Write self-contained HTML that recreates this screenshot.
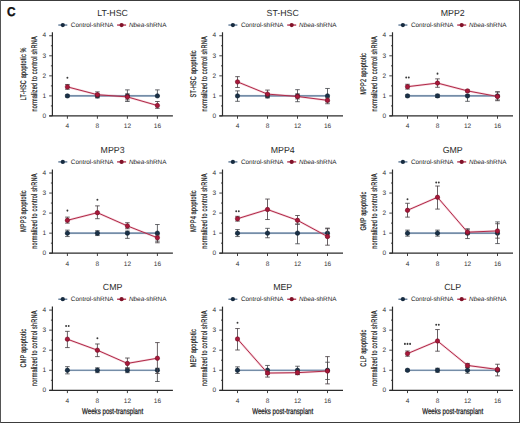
<!DOCTYPE html>
<html><head><meta charset="utf-8"><style>
html,body{margin:0;padding:0;background:#fff;}
body{width:520px;height:423px;overflow:hidden;position:relative;}
svg{position:absolute;left:0;top:0;font-family:"Liberation Sans", sans-serif;text-rendering:geometricPrecision;}
</style></head><body>
<svg width="520" height="423" viewBox="0 0 520 423">
<rect x="0" y="0" width="520" height="423" fill="#fff"/>
<line x1="0" y1="0.5" x2="520" y2="0.5" stroke="#3c3c3c" stroke-width="1"/>
<line x1="0" y1="422.5" x2="520" y2="422.5" stroke="#3c3c3c" stroke-width="1"/>
<line x1="0.5" y1="0" x2="0.5" y2="423" stroke="#555" stroke-width="1"/>
<line x1="519.5" y1="0" x2="519.5" y2="423" stroke="#444" stroke-width="1"/>
<text transform="translate(6.9,16.3) scale(0.92,1)" font-size="12.8" font-weight="bold" fill="#111" stroke="#111" stroke-width="0.35">C</text>
<text x="112.60" y="16.15" font-size="8.8" text-anchor="middle" fill="#2a2a2a">LT-HSC</text>
<line x1="58.30" y1="25.05" x2="67.30" y2="25.05" stroke="#54708f" stroke-width="1.3"/>
<circle cx="62.80" cy="25.05" r="2.1" fill="#172b40"/>
<text x="70.80" y="27.25" font-size="6.35" fill="#222">Control-shRNA</text>
<line x1="117.10" y1="25.05" x2="126.10" y2="25.05" stroke="#b02a48" stroke-width="1.3"/>
<circle cx="121.60" cy="25.05" r="2.1" fill="#801228"/>
<text x="129.00" y="27.25" font-size="6.35" fill="#222"><tspan font-style="italic">Nbea</tspan>-shRNA</text>
<text transform="translate(25.80,73.85) rotate(-90) scale(0.68,1)" font-size="8.2" letter-spacing="0.25" text-anchor="middle" fill="#1a1a1a" stroke="#1a1a1a" stroke-width="0.22">LT-HSC apoptotic %</text>
<text transform="translate(37.00,73.85) rotate(-90) scale(0.68,1)" font-size="8.2" letter-spacing="0.25" text-anchor="middle" fill="#1a1a1a" stroke="#1a1a1a" stroke-width="0.22">normalized to control shRNA</text>
<line x1="52.40" y1="32.25" x2="52.40" y2="115.95" stroke="#2b2b2b" stroke-width="1.2"/>
<line x1="49.20" y1="115.95" x2="172.90" y2="115.95" stroke="#2b2b2b" stroke-width="1.2"/>
<line x1="49.20" y1="115.95" x2="52.40" y2="115.95" stroke="#2b2b2b" stroke-width="0.9"/>
<text x="44.30" y="117.65" font-size="6.5" text-anchor="middle" fill="#333">0</text>
<line x1="50.90" y1="105.92" x2="52.40" y2="105.92" stroke="#2b2b2b" stroke-width="0.9"/>
<line x1="49.20" y1="95.90" x2="52.40" y2="95.90" stroke="#2b2b2b" stroke-width="0.9"/>
<text x="44.30" y="97.60" font-size="6.5" text-anchor="middle" fill="#333">1</text>
<line x1="50.90" y1="85.88" x2="52.40" y2="85.88" stroke="#2b2b2b" stroke-width="0.9"/>
<line x1="49.20" y1="75.85" x2="52.40" y2="75.85" stroke="#2b2b2b" stroke-width="0.9"/>
<text x="44.30" y="77.55" font-size="6.5" text-anchor="middle" fill="#333">2</text>
<line x1="50.90" y1="65.83" x2="52.40" y2="65.83" stroke="#2b2b2b" stroke-width="0.9"/>
<line x1="49.20" y1="55.80" x2="52.40" y2="55.80" stroke="#2b2b2b" stroke-width="0.9"/>
<text x="44.30" y="57.50" font-size="6.5" text-anchor="middle" fill="#333">3</text>
<line x1="50.90" y1="45.78" x2="52.40" y2="45.78" stroke="#2b2b2b" stroke-width="0.9"/>
<line x1="49.20" y1="35.75" x2="52.40" y2="35.75" stroke="#2b2b2b" stroke-width="0.9"/>
<text x="44.30" y="37.45" font-size="6.5" text-anchor="middle" fill="#333">4</text>
<line x1="67.40" y1="115.95" x2="67.40" y2="118.75" stroke="#2b2b2b" stroke-width="0.9"/>
<text x="67.40" y="128.25" font-size="6.5" text-anchor="middle" fill="#333">4</text>
<line x1="97.40" y1="115.95" x2="97.40" y2="118.75" stroke="#2b2b2b" stroke-width="0.9"/>
<text x="97.40" y="128.25" font-size="6.5" text-anchor="middle" fill="#333">8</text>
<line x1="127.40" y1="115.95" x2="127.40" y2="118.75" stroke="#2b2b2b" stroke-width="0.9"/>
<text x="127.40" y="128.25" font-size="6.5" text-anchor="middle" fill="#333">12</text>
<line x1="157.40" y1="115.95" x2="157.40" y2="118.75" stroke="#2b2b2b" stroke-width="0.9"/>
<text x="157.40" y="128.25" font-size="6.5" text-anchor="middle" fill="#333">16</text>
<line x1="67.40" y1="94.90" x2="67.40" y2="96.90" stroke="#4a4d52" stroke-width="0.85"/>
<line x1="65.10" y1="94.90" x2="69.70" y2="94.90" stroke="#4a4d52" stroke-width="0.85"/>
<line x1="65.10" y1="96.90" x2="69.70" y2="96.90" stroke="#4a4d52" stroke-width="0.85"/>
<line x1="97.40" y1="93.89" x2="97.40" y2="97.91" stroke="#4a4d52" stroke-width="0.85"/>
<line x1="95.10" y1="93.89" x2="99.70" y2="93.89" stroke="#4a4d52" stroke-width="0.85"/>
<line x1="95.10" y1="97.91" x2="99.70" y2="97.91" stroke="#4a4d52" stroke-width="0.85"/>
<line x1="127.40" y1="89.89" x2="127.40" y2="101.51" stroke="#4a4d52" stroke-width="0.85"/>
<line x1="125.10" y1="89.89" x2="129.70" y2="89.89" stroke="#4a4d52" stroke-width="0.85"/>
<line x1="125.10" y1="101.51" x2="129.70" y2="101.51" stroke="#4a4d52" stroke-width="0.85"/>
<line x1="157.40" y1="89.89" x2="157.40" y2="95.90" stroke="#4a4d52" stroke-width="0.85"/>
<line x1="155.10" y1="89.89" x2="159.70" y2="89.89" stroke="#4a4d52" stroke-width="0.85"/>
<line x1="155.10" y1="95.90" x2="159.70" y2="95.90" stroke="#4a4d52" stroke-width="0.85"/>
<polyline points="67.40,95.90 97.40,95.90 127.40,95.90 157.40,95.90" fill="none" stroke="#8fb0d2" stroke-width="2.2" stroke-opacity="0.35"/>
<polyline points="67.40,95.90 97.40,95.90 127.40,95.90 157.40,95.90" fill="none" stroke="#54708f" stroke-width="1.15"/>
<circle cx="67.40" cy="95.90" r="2.2" fill="#1a3149" stroke="#10222f" stroke-width="0.6"/>
<circle cx="97.40" cy="95.90" r="2.2" fill="#1a3149" stroke="#10222f" stroke-width="0.6"/>
<circle cx="127.40" cy="95.90" r="2.2" fill="#1a3149" stroke="#10222f" stroke-width="0.6"/>
<circle cx="157.40" cy="95.90" r="2.2" fill="#1a3149" stroke="#10222f" stroke-width="0.6"/>
<line x1="67.40" y1="84.47" x2="67.40" y2="89.28" stroke="#4d4548" stroke-width="0.85"/>
<line x1="65.10" y1="84.47" x2="69.70" y2="84.47" stroke="#4d4548" stroke-width="0.85"/>
<line x1="65.10" y1="89.28" x2="69.70" y2="89.28" stroke="#4d4548" stroke-width="0.85"/>
<line x1="97.40" y1="91.89" x2="97.40" y2="96.90" stroke="#4d4548" stroke-width="0.85"/>
<line x1="95.10" y1="91.89" x2="99.70" y2="91.89" stroke="#4d4548" stroke-width="0.85"/>
<line x1="95.10" y1="96.90" x2="99.70" y2="96.90" stroke="#4d4548" stroke-width="0.85"/>
<line x1="127.40" y1="93.89" x2="127.40" y2="99.91" stroke="#4d4548" stroke-width="0.85"/>
<line x1="125.10" y1="93.89" x2="129.70" y2="93.89" stroke="#4d4548" stroke-width="0.85"/>
<line x1="125.10" y1="99.91" x2="129.70" y2="99.91" stroke="#4d4548" stroke-width="0.85"/>
<line x1="157.40" y1="101.51" x2="157.40" y2="108.33" stroke="#4d4548" stroke-width="0.85"/>
<line x1="155.10" y1="101.51" x2="159.70" y2="101.51" stroke="#4d4548" stroke-width="0.85"/>
<line x1="155.10" y1="108.33" x2="159.70" y2="108.33" stroke="#4d4548" stroke-width="0.85"/>
<polyline points="67.40,86.88 97.40,94.70 127.40,96.90 157.40,105.52" fill="none" stroke="#e27a95" stroke-width="2.2" stroke-opacity="0.35"/>
<polyline points="67.40,86.88 97.40,94.70 127.40,96.90 157.40,105.52" fill="none" stroke="#b02a48" stroke-width="1.0"/>
<circle cx="67.40" cy="86.88" r="2.2" fill="#a8183a" stroke="#6e0c22" stroke-width="0.6"/>
<circle cx="97.40" cy="94.70" r="2.2" fill="#a8183a" stroke="#6e0c22" stroke-width="0.6"/>
<circle cx="127.40" cy="96.90" r="2.2" fill="#a8183a" stroke="#6e0c22" stroke-width="0.6"/>
<circle cx="157.40" cy="105.52" r="2.2" fill="#a8183a" stroke="#6e0c22" stroke-width="0.6"/>
<ellipse cx="67.40" cy="77.80" rx="0.95" ry="1.05" fill="#3a3a3a"/>
<text x="282.70" y="16.15" font-size="8.8" text-anchor="middle" fill="#2a2a2a">ST-HSC</text>
<line x1="228.40" y1="25.05" x2="237.40" y2="25.05" stroke="#54708f" stroke-width="1.3"/>
<circle cx="232.90" cy="25.05" r="2.1" fill="#172b40"/>
<text x="240.90" y="27.25" font-size="6.35" fill="#222">Control-shRNA</text>
<line x1="287.20" y1="25.05" x2="296.20" y2="25.05" stroke="#b02a48" stroke-width="1.3"/>
<circle cx="291.70" cy="25.05" r="2.1" fill="#801228"/>
<text x="299.10" y="27.25" font-size="6.35" fill="#222"><tspan font-style="italic">Nbea</tspan>-shRNA</text>
<text transform="translate(195.90,73.85) rotate(-90) scale(0.68,1)" font-size="8.2" letter-spacing="0.25" text-anchor="middle" fill="#1a1a1a" stroke="#1a1a1a" stroke-width="0.22">ST-HSC apoptotic</text>
<text transform="translate(207.10,73.85) rotate(-90) scale(0.68,1)" font-size="8.2" letter-spacing="0.25" text-anchor="middle" fill="#1a1a1a" stroke="#1a1a1a" stroke-width="0.22">normalized to control shRNA</text>
<line x1="222.50" y1="32.25" x2="222.50" y2="115.95" stroke="#2b2b2b" stroke-width="1.2"/>
<line x1="219.30" y1="115.95" x2="343.00" y2="115.95" stroke="#2b2b2b" stroke-width="1.2"/>
<line x1="219.30" y1="115.95" x2="222.50" y2="115.95" stroke="#2b2b2b" stroke-width="0.9"/>
<text x="214.40" y="117.65" font-size="6.5" text-anchor="middle" fill="#333">0</text>
<line x1="221.00" y1="105.92" x2="222.50" y2="105.92" stroke="#2b2b2b" stroke-width="0.9"/>
<line x1="219.30" y1="95.90" x2="222.50" y2="95.90" stroke="#2b2b2b" stroke-width="0.9"/>
<text x="214.40" y="97.60" font-size="6.5" text-anchor="middle" fill="#333">1</text>
<line x1="221.00" y1="85.88" x2="222.50" y2="85.88" stroke="#2b2b2b" stroke-width="0.9"/>
<line x1="219.30" y1="75.85" x2="222.50" y2="75.85" stroke="#2b2b2b" stroke-width="0.9"/>
<text x="214.40" y="77.55" font-size="6.5" text-anchor="middle" fill="#333">2</text>
<line x1="221.00" y1="65.83" x2="222.50" y2="65.83" stroke="#2b2b2b" stroke-width="0.9"/>
<line x1="219.30" y1="55.80" x2="222.50" y2="55.80" stroke="#2b2b2b" stroke-width="0.9"/>
<text x="214.40" y="57.50" font-size="6.5" text-anchor="middle" fill="#333">3</text>
<line x1="221.00" y1="45.78" x2="222.50" y2="45.78" stroke="#2b2b2b" stroke-width="0.9"/>
<line x1="219.30" y1="35.75" x2="222.50" y2="35.75" stroke="#2b2b2b" stroke-width="0.9"/>
<text x="214.40" y="37.45" font-size="6.5" text-anchor="middle" fill="#333">4</text>
<line x1="237.50" y1="115.95" x2="237.50" y2="118.75" stroke="#2b2b2b" stroke-width="0.9"/>
<text x="237.50" y="128.25" font-size="6.5" text-anchor="middle" fill="#333">4</text>
<line x1="267.50" y1="115.95" x2="267.50" y2="118.75" stroke="#2b2b2b" stroke-width="0.9"/>
<text x="267.50" y="128.25" font-size="6.5" text-anchor="middle" fill="#333">8</text>
<line x1="297.50" y1="115.95" x2="297.50" y2="118.75" stroke="#2b2b2b" stroke-width="0.9"/>
<text x="297.50" y="128.25" font-size="6.5" text-anchor="middle" fill="#333">12</text>
<line x1="327.50" y1="115.95" x2="327.50" y2="118.75" stroke="#2b2b2b" stroke-width="0.9"/>
<text x="327.50" y="128.25" font-size="6.5" text-anchor="middle" fill="#333">16</text>
<line x1="237.50" y1="90.89" x2="237.50" y2="101.31" stroke="#4a4d52" stroke-width="0.85"/>
<line x1="235.20" y1="90.89" x2="239.80" y2="90.89" stroke="#4a4d52" stroke-width="0.85"/>
<line x1="235.20" y1="101.31" x2="239.80" y2="101.31" stroke="#4a4d52" stroke-width="0.85"/>
<line x1="267.50" y1="93.89" x2="267.50" y2="97.91" stroke="#4a4d52" stroke-width="0.85"/>
<line x1="265.20" y1="93.89" x2="269.80" y2="93.89" stroke="#4a4d52" stroke-width="0.85"/>
<line x1="265.20" y1="97.91" x2="269.80" y2="97.91" stroke="#4a4d52" stroke-width="0.85"/>
<line x1="297.50" y1="89.68" x2="297.50" y2="101.71" stroke="#4a4d52" stroke-width="0.85"/>
<line x1="295.20" y1="89.68" x2="299.80" y2="89.68" stroke="#4a4d52" stroke-width="0.85"/>
<line x1="295.20" y1="101.71" x2="299.80" y2="101.71" stroke="#4a4d52" stroke-width="0.85"/>
<line x1="327.50" y1="88.48" x2="327.50" y2="101.92" stroke="#4a4d52" stroke-width="0.85"/>
<line x1="325.20" y1="88.48" x2="329.80" y2="88.48" stroke="#4a4d52" stroke-width="0.85"/>
<line x1="325.20" y1="101.92" x2="329.80" y2="101.92" stroke="#4a4d52" stroke-width="0.85"/>
<polyline points="237.50,95.90 267.50,95.90 297.50,95.90 327.50,95.90" fill="none" stroke="#8fb0d2" stroke-width="2.2" stroke-opacity="0.35"/>
<polyline points="237.50,95.90 267.50,95.90 297.50,95.90 327.50,95.90" fill="none" stroke="#54708f" stroke-width="1.15"/>
<circle cx="237.50" cy="95.90" r="2.2" fill="#1a3149" stroke="#10222f" stroke-width="0.6"/>
<circle cx="267.50" cy="95.90" r="2.2" fill="#1a3149" stroke="#10222f" stroke-width="0.6"/>
<circle cx="297.50" cy="95.90" r="2.2" fill="#1a3149" stroke="#10222f" stroke-width="0.6"/>
<circle cx="327.50" cy="95.90" r="2.2" fill="#1a3149" stroke="#10222f" stroke-width="0.6"/>
<line x1="237.50" y1="76.65" x2="237.50" y2="87.48" stroke="#4d4548" stroke-width="0.85"/>
<line x1="235.20" y1="76.65" x2="239.80" y2="76.65" stroke="#4d4548" stroke-width="0.85"/>
<line x1="235.20" y1="87.48" x2="239.80" y2="87.48" stroke="#4d4548" stroke-width="0.85"/>
<line x1="267.50" y1="90.09" x2="267.50" y2="96.90" stroke="#4d4548" stroke-width="0.85"/>
<line x1="265.20" y1="90.09" x2="269.80" y2="90.09" stroke="#4d4548" stroke-width="0.85"/>
<line x1="265.20" y1="96.90" x2="269.80" y2="96.90" stroke="#4d4548" stroke-width="0.85"/>
<line x1="297.50" y1="93.89" x2="297.50" y2="98.91" stroke="#4d4548" stroke-width="0.85"/>
<line x1="295.20" y1="93.89" x2="299.80" y2="93.89" stroke="#4d4548" stroke-width="0.85"/>
<line x1="295.20" y1="98.91" x2="299.80" y2="98.91" stroke="#4d4548" stroke-width="0.85"/>
<line x1="327.50" y1="97.91" x2="327.50" y2="103.72" stroke="#4d4548" stroke-width="0.85"/>
<line x1="325.20" y1="97.91" x2="329.80" y2="97.91" stroke="#4d4548" stroke-width="0.85"/>
<line x1="325.20" y1="103.72" x2="329.80" y2="103.72" stroke="#4d4548" stroke-width="0.85"/>
<polyline points="237.50,81.87 267.50,94.10 297.50,96.50 327.50,100.31" fill="none" stroke="#e27a95" stroke-width="2.2" stroke-opacity="0.35"/>
<polyline points="237.50,81.87 267.50,94.10 297.50,96.50 327.50,100.31" fill="none" stroke="#b02a48" stroke-width="1.0"/>
<circle cx="237.50" cy="81.87" r="2.2" fill="#a8183a" stroke="#6e0c22" stroke-width="0.6"/>
<circle cx="267.50" cy="94.10" r="2.2" fill="#a8183a" stroke="#6e0c22" stroke-width="0.6"/>
<circle cx="297.50" cy="96.50" r="2.2" fill="#a8183a" stroke="#6e0c22" stroke-width="0.6"/>
<circle cx="327.50" cy="100.31" r="2.2" fill="#a8183a" stroke="#6e0c22" stroke-width="0.6"/>
<text x="452.70" y="16.15" font-size="8.8" text-anchor="middle" fill="#2a2a2a">MPP2</text>
<line x1="398.40" y1="25.05" x2="407.40" y2="25.05" stroke="#54708f" stroke-width="1.3"/>
<circle cx="402.90" cy="25.05" r="2.1" fill="#172b40"/>
<text x="410.90" y="27.25" font-size="6.35" fill="#222">Control-shRNA</text>
<line x1="457.20" y1="25.05" x2="466.20" y2="25.05" stroke="#b02a48" stroke-width="1.3"/>
<circle cx="461.70" cy="25.05" r="2.1" fill="#801228"/>
<text x="469.10" y="27.25" font-size="6.35" fill="#222"><tspan font-style="italic">Nbea</tspan>-shRNA</text>
<text transform="translate(365.90,73.85) rotate(-90) scale(0.68,1)" font-size="8.2" letter-spacing="0.25" text-anchor="middle" fill="#1a1a1a" stroke="#1a1a1a" stroke-width="0.22">MPP2 apoptotic</text>
<text transform="translate(377.10,73.85) rotate(-90) scale(0.68,1)" font-size="8.2" letter-spacing="0.25" text-anchor="middle" fill="#1a1a1a" stroke="#1a1a1a" stroke-width="0.22">normalized to control shRNA</text>
<line x1="392.50" y1="32.25" x2="392.50" y2="115.95" stroke="#2b2b2b" stroke-width="1.2"/>
<line x1="389.30" y1="115.95" x2="513.00" y2="115.95" stroke="#2b2b2b" stroke-width="1.2"/>
<line x1="389.30" y1="115.95" x2="392.50" y2="115.95" stroke="#2b2b2b" stroke-width="0.9"/>
<text x="384.40" y="117.65" font-size="6.5" text-anchor="middle" fill="#333">0</text>
<line x1="391.00" y1="105.92" x2="392.50" y2="105.92" stroke="#2b2b2b" stroke-width="0.9"/>
<line x1="389.30" y1="95.90" x2="392.50" y2="95.90" stroke="#2b2b2b" stroke-width="0.9"/>
<text x="384.40" y="97.60" font-size="6.5" text-anchor="middle" fill="#333">1</text>
<line x1="391.00" y1="85.88" x2="392.50" y2="85.88" stroke="#2b2b2b" stroke-width="0.9"/>
<line x1="389.30" y1="75.85" x2="392.50" y2="75.85" stroke="#2b2b2b" stroke-width="0.9"/>
<text x="384.40" y="77.55" font-size="6.5" text-anchor="middle" fill="#333">2</text>
<line x1="391.00" y1="65.83" x2="392.50" y2="65.83" stroke="#2b2b2b" stroke-width="0.9"/>
<line x1="389.30" y1="55.80" x2="392.50" y2="55.80" stroke="#2b2b2b" stroke-width="0.9"/>
<text x="384.40" y="57.50" font-size="6.5" text-anchor="middle" fill="#333">3</text>
<line x1="391.00" y1="45.78" x2="392.50" y2="45.78" stroke="#2b2b2b" stroke-width="0.9"/>
<line x1="389.30" y1="35.75" x2="392.50" y2="35.75" stroke="#2b2b2b" stroke-width="0.9"/>
<text x="384.40" y="37.45" font-size="6.5" text-anchor="middle" fill="#333">4</text>
<line x1="407.50" y1="115.95" x2="407.50" y2="118.75" stroke="#2b2b2b" stroke-width="0.9"/>
<text x="407.50" y="128.25" font-size="6.5" text-anchor="middle" fill="#333">4</text>
<line x1="437.50" y1="115.95" x2="437.50" y2="118.75" stroke="#2b2b2b" stroke-width="0.9"/>
<text x="437.50" y="128.25" font-size="6.5" text-anchor="middle" fill="#333">8</text>
<line x1="467.50" y1="115.95" x2="467.50" y2="118.75" stroke="#2b2b2b" stroke-width="0.9"/>
<text x="467.50" y="128.25" font-size="6.5" text-anchor="middle" fill="#333">12</text>
<line x1="497.50" y1="115.95" x2="497.50" y2="118.75" stroke="#2b2b2b" stroke-width="0.9"/>
<text x="497.50" y="128.25" font-size="6.5" text-anchor="middle" fill="#333">16</text>
<line x1="407.50" y1="94.90" x2="407.50" y2="96.90" stroke="#4a4d52" stroke-width="0.85"/>
<line x1="405.20" y1="94.90" x2="409.80" y2="94.90" stroke="#4a4d52" stroke-width="0.85"/>
<line x1="405.20" y1="96.90" x2="409.80" y2="96.90" stroke="#4a4d52" stroke-width="0.85"/>
<line x1="437.50" y1="94.30" x2="437.50" y2="97.50" stroke="#4a4d52" stroke-width="0.85"/>
<line x1="435.20" y1="94.30" x2="439.80" y2="94.30" stroke="#4a4d52" stroke-width="0.85"/>
<line x1="435.20" y1="97.50" x2="439.80" y2="97.50" stroke="#4a4d52" stroke-width="0.85"/>
<line x1="467.50" y1="94.90" x2="467.50" y2="101.31" stroke="#4a4d52" stroke-width="0.85"/>
<line x1="465.20" y1="94.90" x2="469.80" y2="94.90" stroke="#4a4d52" stroke-width="0.85"/>
<line x1="465.20" y1="101.31" x2="469.80" y2="101.31" stroke="#4a4d52" stroke-width="0.85"/>
<line x1="497.50" y1="91.89" x2="497.50" y2="99.91" stroke="#4a4d52" stroke-width="0.85"/>
<line x1="495.20" y1="91.89" x2="499.80" y2="91.89" stroke="#4a4d52" stroke-width="0.85"/>
<line x1="495.20" y1="99.91" x2="499.80" y2="99.91" stroke="#4a4d52" stroke-width="0.85"/>
<polyline points="407.50,95.90 437.50,95.90 467.50,95.90 497.50,95.90" fill="none" stroke="#8fb0d2" stroke-width="2.2" stroke-opacity="0.35"/>
<polyline points="407.50,95.90 437.50,95.90 467.50,95.90 497.50,95.90" fill="none" stroke="#54708f" stroke-width="1.15"/>
<circle cx="407.50" cy="95.90" r="2.2" fill="#1a3149" stroke="#10222f" stroke-width="0.6"/>
<circle cx="437.50" cy="95.90" r="2.2" fill="#1a3149" stroke="#10222f" stroke-width="0.6"/>
<circle cx="467.50" cy="95.90" r="2.2" fill="#1a3149" stroke="#10222f" stroke-width="0.6"/>
<circle cx="497.50" cy="95.90" r="2.2" fill="#1a3149" stroke="#10222f" stroke-width="0.6"/>
<line x1="407.50" y1="84.27" x2="407.50" y2="89.08" stroke="#4d4548" stroke-width="0.85"/>
<line x1="405.20" y1="84.27" x2="409.80" y2="84.27" stroke="#4d4548" stroke-width="0.85"/>
<line x1="405.20" y1="89.08" x2="409.80" y2="89.08" stroke="#4d4548" stroke-width="0.85"/>
<line x1="437.50" y1="78.86" x2="437.50" y2="87.28" stroke="#4d4548" stroke-width="0.85"/>
<line x1="435.20" y1="78.86" x2="439.80" y2="78.86" stroke="#4d4548" stroke-width="0.85"/>
<line x1="435.20" y1="87.28" x2="439.80" y2="87.28" stroke="#4d4548" stroke-width="0.85"/>
<line x1="467.50" y1="89.89" x2="467.50" y2="91.89" stroke="#4d4548" stroke-width="0.85"/>
<line x1="465.20" y1="89.89" x2="469.80" y2="89.89" stroke="#4d4548" stroke-width="0.85"/>
<line x1="465.20" y1="91.89" x2="469.80" y2="91.89" stroke="#4d4548" stroke-width="0.85"/>
<line x1="497.50" y1="91.89" x2="497.50" y2="100.71" stroke="#4d4548" stroke-width="0.85"/>
<line x1="495.20" y1="91.89" x2="499.80" y2="91.89" stroke="#4d4548" stroke-width="0.85"/>
<line x1="495.20" y1="100.71" x2="499.80" y2="100.71" stroke="#4d4548" stroke-width="0.85"/>
<polyline points="407.50,86.68 437.50,83.07 467.50,90.89 497.50,96.50" fill="none" stroke="#e27a95" stroke-width="2.2" stroke-opacity="0.35"/>
<polyline points="407.50,86.68 437.50,83.07 467.50,90.89 497.50,96.50" fill="none" stroke="#b02a48" stroke-width="1.0"/>
<circle cx="407.50" cy="86.68" r="2.2" fill="#a8183a" stroke="#6e0c22" stroke-width="0.6"/>
<circle cx="437.50" cy="83.07" r="2.2" fill="#a8183a" stroke="#6e0c22" stroke-width="0.6"/>
<circle cx="467.50" cy="90.89" r="2.2" fill="#a8183a" stroke="#6e0c22" stroke-width="0.6"/>
<circle cx="497.50" cy="96.50" r="2.2" fill="#a8183a" stroke="#6e0c22" stroke-width="0.6"/>
<ellipse cx="406.20" cy="77.50" rx="0.95" ry="1.05" fill="#3a3a3a"/>
<ellipse cx="408.80" cy="77.50" rx="0.95" ry="1.05" fill="#3a3a3a"/>
<ellipse cx="437.50" cy="73.65" rx="0.95" ry="1.05" fill="#3a3a3a"/>
<text x="112.60" y="152.90" font-size="8.8" text-anchor="middle" fill="#2a2a2a">MPP3</text>
<line x1="58.30" y1="161.90" x2="67.30" y2="161.90" stroke="#54708f" stroke-width="1.3"/>
<circle cx="62.80" cy="161.90" r="2.1" fill="#172b40"/>
<text x="70.80" y="164.10" font-size="6.35" fill="#222">Control-shRNA</text>
<line x1="117.10" y1="161.90" x2="126.10" y2="161.90" stroke="#b02a48" stroke-width="1.3"/>
<circle cx="121.60" cy="161.90" r="2.1" fill="#801228"/>
<text x="129.00" y="164.10" font-size="6.35" fill="#222"><tspan font-style="italic">Nbea</tspan>-shRNA</text>
<text transform="translate(25.80,211.10) rotate(-90) scale(0.68,1)" font-size="8.2" letter-spacing="0.25" text-anchor="middle" fill="#1a1a1a" stroke="#1a1a1a" stroke-width="0.22">MPP3 apoptotic</text>
<text transform="translate(37.00,211.10) rotate(-90) scale(0.68,1)" font-size="8.2" letter-spacing="0.25" text-anchor="middle" fill="#1a1a1a" stroke="#1a1a1a" stroke-width="0.22">normalized to control shRNA</text>
<line x1="52.40" y1="169.50" x2="52.40" y2="253.20" stroke="#2b2b2b" stroke-width="1.2"/>
<line x1="49.20" y1="253.20" x2="172.90" y2="253.20" stroke="#2b2b2b" stroke-width="1.2"/>
<line x1="49.20" y1="253.20" x2="52.40" y2="253.20" stroke="#2b2b2b" stroke-width="0.9"/>
<text x="44.30" y="254.90" font-size="6.5" text-anchor="middle" fill="#333">0</text>
<line x1="50.90" y1="243.17" x2="52.40" y2="243.17" stroke="#2b2b2b" stroke-width="0.9"/>
<line x1="49.20" y1="233.15" x2="52.40" y2="233.15" stroke="#2b2b2b" stroke-width="0.9"/>
<text x="44.30" y="234.85" font-size="6.5" text-anchor="middle" fill="#333">1</text>
<line x1="50.90" y1="223.12" x2="52.40" y2="223.12" stroke="#2b2b2b" stroke-width="0.9"/>
<line x1="49.20" y1="213.10" x2="52.40" y2="213.10" stroke="#2b2b2b" stroke-width="0.9"/>
<text x="44.30" y="214.80" font-size="6.5" text-anchor="middle" fill="#333">2</text>
<line x1="50.90" y1="203.07" x2="52.40" y2="203.07" stroke="#2b2b2b" stroke-width="0.9"/>
<line x1="49.20" y1="193.05" x2="52.40" y2="193.05" stroke="#2b2b2b" stroke-width="0.9"/>
<text x="44.30" y="194.75" font-size="6.5" text-anchor="middle" fill="#333">3</text>
<line x1="50.90" y1="183.02" x2="52.40" y2="183.02" stroke="#2b2b2b" stroke-width="0.9"/>
<line x1="49.20" y1="173.00" x2="52.40" y2="173.00" stroke="#2b2b2b" stroke-width="0.9"/>
<text x="44.30" y="174.70" font-size="6.5" text-anchor="middle" fill="#333">4</text>
<line x1="67.40" y1="253.20" x2="67.40" y2="256.00" stroke="#2b2b2b" stroke-width="0.9"/>
<text x="67.40" y="265.50" font-size="6.5" text-anchor="middle" fill="#333">4</text>
<line x1="97.40" y1="253.20" x2="97.40" y2="256.00" stroke="#2b2b2b" stroke-width="0.9"/>
<text x="97.40" y="265.50" font-size="6.5" text-anchor="middle" fill="#333">8</text>
<line x1="127.40" y1="253.20" x2="127.40" y2="256.00" stroke="#2b2b2b" stroke-width="0.9"/>
<text x="127.40" y="265.50" font-size="6.5" text-anchor="middle" fill="#333">12</text>
<line x1="157.40" y1="253.20" x2="157.40" y2="256.00" stroke="#2b2b2b" stroke-width="0.9"/>
<text x="157.40" y="265.50" font-size="6.5" text-anchor="middle" fill="#333">16</text>
<line x1="67.40" y1="230.14" x2="67.40" y2="236.56" stroke="#4a4d52" stroke-width="0.85"/>
<line x1="65.10" y1="230.14" x2="69.70" y2="230.14" stroke="#4a4d52" stroke-width="0.85"/>
<line x1="65.10" y1="236.56" x2="69.70" y2="236.56" stroke="#4a4d52" stroke-width="0.85"/>
<line x1="97.40" y1="230.74" x2="97.40" y2="235.56" stroke="#4a4d52" stroke-width="0.85"/>
<line x1="95.10" y1="230.74" x2="99.70" y2="230.74" stroke="#4a4d52" stroke-width="0.85"/>
<line x1="95.10" y1="235.56" x2="99.70" y2="235.56" stroke="#4a4d52" stroke-width="0.85"/>
<line x1="127.40" y1="231.14" x2="127.40" y2="238.36" stroke="#4a4d52" stroke-width="0.85"/>
<line x1="125.10" y1="231.14" x2="129.70" y2="231.14" stroke="#4a4d52" stroke-width="0.85"/>
<line x1="125.10" y1="238.36" x2="129.70" y2="238.36" stroke="#4a4d52" stroke-width="0.85"/>
<line x1="157.40" y1="224.53" x2="157.40" y2="241.17" stroke="#4a4d52" stroke-width="0.85"/>
<line x1="155.10" y1="224.53" x2="159.70" y2="224.53" stroke="#4a4d52" stroke-width="0.85"/>
<line x1="155.10" y1="241.17" x2="159.70" y2="241.17" stroke="#4a4d52" stroke-width="0.85"/>
<polyline points="67.40,233.15 97.40,233.15 127.40,233.15 157.40,233.15" fill="none" stroke="#8fb0d2" stroke-width="2.2" stroke-opacity="0.35"/>
<polyline points="67.40,233.15 97.40,233.15 127.40,233.15 157.40,233.15" fill="none" stroke="#54708f" stroke-width="1.15"/>
<circle cx="67.40" cy="233.15" r="2.2" fill="#1a3149" stroke="#10222f" stroke-width="0.6"/>
<circle cx="97.40" cy="233.15" r="2.2" fill="#1a3149" stroke="#10222f" stroke-width="0.6"/>
<circle cx="127.40" cy="233.15" r="2.2" fill="#1a3149" stroke="#10222f" stroke-width="0.6"/>
<circle cx="157.40" cy="233.15" r="2.2" fill="#1a3149" stroke="#10222f" stroke-width="0.6"/>
<line x1="67.40" y1="217.11" x2="67.40" y2="223.12" stroke="#4d4548" stroke-width="0.85"/>
<line x1="65.10" y1="217.11" x2="69.70" y2="217.11" stroke="#4d4548" stroke-width="0.85"/>
<line x1="65.10" y1="223.12" x2="69.70" y2="223.12" stroke="#4d4548" stroke-width="0.85"/>
<line x1="97.40" y1="205.88" x2="97.40" y2="218.71" stroke="#4d4548" stroke-width="0.85"/>
<line x1="95.10" y1="205.88" x2="99.70" y2="205.88" stroke="#4d4548" stroke-width="0.85"/>
<line x1="95.10" y1="218.71" x2="99.70" y2="218.71" stroke="#4d4548" stroke-width="0.85"/>
<line x1="127.40" y1="222.72" x2="127.40" y2="228.74" stroke="#4d4548" stroke-width="0.85"/>
<line x1="125.10" y1="222.72" x2="129.70" y2="222.72" stroke="#4d4548" stroke-width="0.85"/>
<line x1="125.10" y1="228.74" x2="129.70" y2="228.74" stroke="#4d4548" stroke-width="0.85"/>
<line x1="157.40" y1="235.15" x2="157.40" y2="242.77" stroke="#4d4548" stroke-width="0.85"/>
<line x1="155.10" y1="235.15" x2="159.70" y2="235.15" stroke="#4d4548" stroke-width="0.85"/>
<line x1="155.10" y1="242.77" x2="159.70" y2="242.77" stroke="#4d4548" stroke-width="0.85"/>
<polyline points="67.40,220.32 97.40,212.70 127.40,225.93 157.40,237.76" fill="none" stroke="#e27a95" stroke-width="2.2" stroke-opacity="0.35"/>
<polyline points="67.40,220.32 97.40,212.70 127.40,225.93 157.40,237.76" fill="none" stroke="#b02a48" stroke-width="1.0"/>
<circle cx="67.40" cy="220.32" r="2.2" fill="#a8183a" stroke="#6e0c22" stroke-width="0.6"/>
<circle cx="97.40" cy="212.70" r="2.2" fill="#a8183a" stroke="#6e0c22" stroke-width="0.6"/>
<circle cx="127.40" cy="225.93" r="2.2" fill="#a8183a" stroke="#6e0c22" stroke-width="0.6"/>
<circle cx="157.40" cy="237.76" r="2.2" fill="#a8183a" stroke="#6e0c22" stroke-width="0.6"/>
<ellipse cx="67.40" cy="210.60" rx="0.95" ry="1.05" fill="#3a3a3a"/>
<ellipse cx="97.40" cy="199.80" rx="0.95" ry="1.05" fill="#3a3a3a"/>
<text x="282.70" y="152.90" font-size="8.8" text-anchor="middle" fill="#2a2a2a">MPP4</text>
<line x1="228.40" y1="161.90" x2="237.40" y2="161.90" stroke="#54708f" stroke-width="1.3"/>
<circle cx="232.90" cy="161.90" r="2.1" fill="#172b40"/>
<text x="240.90" y="164.10" font-size="6.35" fill="#222">Control-shRNA</text>
<line x1="287.20" y1="161.90" x2="296.20" y2="161.90" stroke="#b02a48" stroke-width="1.3"/>
<circle cx="291.70" cy="161.90" r="2.1" fill="#801228"/>
<text x="299.10" y="164.10" font-size="6.35" fill="#222"><tspan font-style="italic">Nbea</tspan>-shRNA</text>
<text transform="translate(195.90,211.10) rotate(-90) scale(0.68,1)" font-size="8.2" letter-spacing="0.25" text-anchor="middle" fill="#1a1a1a" stroke="#1a1a1a" stroke-width="0.22">MPP4 apoptotic</text>
<text transform="translate(207.10,211.10) rotate(-90) scale(0.68,1)" font-size="8.2" letter-spacing="0.25" text-anchor="middle" fill="#1a1a1a" stroke="#1a1a1a" stroke-width="0.22">normalized to control shRNA</text>
<line x1="222.50" y1="169.50" x2="222.50" y2="253.20" stroke="#2b2b2b" stroke-width="1.2"/>
<line x1="219.30" y1="253.20" x2="343.00" y2="253.20" stroke="#2b2b2b" stroke-width="1.2"/>
<line x1="219.30" y1="253.20" x2="222.50" y2="253.20" stroke="#2b2b2b" stroke-width="0.9"/>
<text x="214.40" y="254.90" font-size="6.5" text-anchor="middle" fill="#333">0</text>
<line x1="221.00" y1="243.17" x2="222.50" y2="243.17" stroke="#2b2b2b" stroke-width="0.9"/>
<line x1="219.30" y1="233.15" x2="222.50" y2="233.15" stroke="#2b2b2b" stroke-width="0.9"/>
<text x="214.40" y="234.85" font-size="6.5" text-anchor="middle" fill="#333">1</text>
<line x1="221.00" y1="223.12" x2="222.50" y2="223.12" stroke="#2b2b2b" stroke-width="0.9"/>
<line x1="219.30" y1="213.10" x2="222.50" y2="213.10" stroke="#2b2b2b" stroke-width="0.9"/>
<text x="214.40" y="214.80" font-size="6.5" text-anchor="middle" fill="#333">2</text>
<line x1="221.00" y1="203.07" x2="222.50" y2="203.07" stroke="#2b2b2b" stroke-width="0.9"/>
<line x1="219.30" y1="193.05" x2="222.50" y2="193.05" stroke="#2b2b2b" stroke-width="0.9"/>
<text x="214.40" y="194.75" font-size="6.5" text-anchor="middle" fill="#333">3</text>
<line x1="221.00" y1="183.02" x2="222.50" y2="183.02" stroke="#2b2b2b" stroke-width="0.9"/>
<line x1="219.30" y1="173.00" x2="222.50" y2="173.00" stroke="#2b2b2b" stroke-width="0.9"/>
<text x="214.40" y="174.70" font-size="6.5" text-anchor="middle" fill="#333">4</text>
<line x1="237.50" y1="253.20" x2="237.50" y2="256.00" stroke="#2b2b2b" stroke-width="0.9"/>
<text x="237.50" y="265.50" font-size="6.5" text-anchor="middle" fill="#333">4</text>
<line x1="267.50" y1="253.20" x2="267.50" y2="256.00" stroke="#2b2b2b" stroke-width="0.9"/>
<text x="267.50" y="265.50" font-size="6.5" text-anchor="middle" fill="#333">8</text>
<line x1="297.50" y1="253.20" x2="297.50" y2="256.00" stroke="#2b2b2b" stroke-width="0.9"/>
<text x="297.50" y="265.50" font-size="6.5" text-anchor="middle" fill="#333">12</text>
<line x1="327.50" y1="253.20" x2="327.50" y2="256.00" stroke="#2b2b2b" stroke-width="0.9"/>
<text x="327.50" y="265.50" font-size="6.5" text-anchor="middle" fill="#333">16</text>
<line x1="237.50" y1="229.54" x2="237.50" y2="236.56" stroke="#4a4d52" stroke-width="0.85"/>
<line x1="235.20" y1="229.54" x2="239.80" y2="229.54" stroke="#4a4d52" stroke-width="0.85"/>
<line x1="235.20" y1="236.56" x2="239.80" y2="236.56" stroke="#4a4d52" stroke-width="0.85"/>
<line x1="267.50" y1="228.34" x2="267.50" y2="237.76" stroke="#4a4d52" stroke-width="0.85"/>
<line x1="265.20" y1="228.34" x2="269.80" y2="228.34" stroke="#4a4d52" stroke-width="0.85"/>
<line x1="265.20" y1="237.76" x2="269.80" y2="237.76" stroke="#4a4d52" stroke-width="0.85"/>
<line x1="297.50" y1="224.13" x2="297.50" y2="243.78" stroke="#4a4d52" stroke-width="0.85"/>
<line x1="295.20" y1="224.13" x2="299.80" y2="224.13" stroke="#4a4d52" stroke-width="0.85"/>
<line x1="295.20" y1="243.78" x2="299.80" y2="243.78" stroke="#4a4d52" stroke-width="0.85"/>
<line x1="327.50" y1="228.74" x2="327.50" y2="237.16" stroke="#4a4d52" stroke-width="0.85"/>
<line x1="325.20" y1="228.74" x2="329.80" y2="228.74" stroke="#4a4d52" stroke-width="0.85"/>
<line x1="325.20" y1="237.16" x2="329.80" y2="237.16" stroke="#4a4d52" stroke-width="0.85"/>
<polyline points="237.50,233.15 267.50,233.15 297.50,233.15 327.50,233.15" fill="none" stroke="#8fb0d2" stroke-width="2.2" stroke-opacity="0.35"/>
<polyline points="237.50,233.15 267.50,233.15 297.50,233.15 327.50,233.15" fill="none" stroke="#54708f" stroke-width="1.15"/>
<circle cx="237.50" cy="233.15" r="2.2" fill="#1a3149" stroke="#10222f" stroke-width="0.6"/>
<circle cx="267.50" cy="233.15" r="2.2" fill="#1a3149" stroke="#10222f" stroke-width="0.6"/>
<circle cx="297.50" cy="233.15" r="2.2" fill="#1a3149" stroke="#10222f" stroke-width="0.6"/>
<circle cx="327.50" cy="233.15" r="2.2" fill="#1a3149" stroke="#10222f" stroke-width="0.6"/>
<line x1="237.50" y1="216.31" x2="237.50" y2="221.12" stroke="#4d4548" stroke-width="0.85"/>
<line x1="235.20" y1="216.31" x2="239.80" y2="216.31" stroke="#4d4548" stroke-width="0.85"/>
<line x1="235.20" y1="221.12" x2="239.80" y2="221.12" stroke="#4d4548" stroke-width="0.85"/>
<line x1="267.50" y1="199.06" x2="267.50" y2="219.52" stroke="#4d4548" stroke-width="0.85"/>
<line x1="265.20" y1="199.06" x2="269.80" y2="199.06" stroke="#4d4548" stroke-width="0.85"/>
<line x1="265.20" y1="219.52" x2="269.80" y2="219.52" stroke="#4d4548" stroke-width="0.85"/>
<line x1="297.50" y1="215.51" x2="297.50" y2="224.13" stroke="#4d4548" stroke-width="0.85"/>
<line x1="295.20" y1="215.51" x2="299.80" y2="215.51" stroke="#4d4548" stroke-width="0.85"/>
<line x1="295.20" y1="224.13" x2="299.80" y2="224.13" stroke="#4d4548" stroke-width="0.85"/>
<line x1="327.50" y1="228.14" x2="327.50" y2="245.18" stroke="#4d4548" stroke-width="0.85"/>
<line x1="325.20" y1="228.14" x2="329.80" y2="228.14" stroke="#4d4548" stroke-width="0.85"/>
<line x1="325.20" y1="245.18" x2="329.80" y2="245.18" stroke="#4d4548" stroke-width="0.85"/>
<polyline points="237.50,218.71 267.50,209.49 297.50,220.32 327.50,236.56" fill="none" stroke="#e27a95" stroke-width="2.2" stroke-opacity="0.35"/>
<polyline points="237.50,218.71 267.50,209.49 297.50,220.32 327.50,236.56" fill="none" stroke="#b02a48" stroke-width="1.0"/>
<circle cx="237.50" cy="218.71" r="2.2" fill="#a8183a" stroke="#6e0c22" stroke-width="0.6"/>
<circle cx="267.50" cy="209.49" r="2.2" fill="#a8183a" stroke="#6e0c22" stroke-width="0.6"/>
<circle cx="297.50" cy="220.32" r="2.2" fill="#a8183a" stroke="#6e0c22" stroke-width="0.6"/>
<circle cx="327.50" cy="236.56" r="2.2" fill="#a8183a" stroke="#6e0c22" stroke-width="0.6"/>
<ellipse cx="236.20" cy="211.20" rx="0.95" ry="1.05" fill="#3a3a3a"/>
<ellipse cx="238.80" cy="211.20" rx="0.95" ry="1.05" fill="#3a3a3a"/>
<text x="452.70" y="152.90" font-size="8.8" text-anchor="middle" fill="#2a2a2a">GMP</text>
<line x1="398.40" y1="161.90" x2="407.40" y2="161.90" stroke="#54708f" stroke-width="1.3"/>
<circle cx="402.90" cy="161.90" r="2.1" fill="#172b40"/>
<text x="410.90" y="164.10" font-size="6.35" fill="#222">Control-shRNA</text>
<line x1="457.20" y1="161.90" x2="466.20" y2="161.90" stroke="#b02a48" stroke-width="1.3"/>
<circle cx="461.70" cy="161.90" r="2.1" fill="#801228"/>
<text x="469.10" y="164.10" font-size="6.35" fill="#222"><tspan font-style="italic">Nbea</tspan>-shRNA</text>
<text transform="translate(365.90,211.10) rotate(-90) scale(0.68,1)" font-size="8.2" letter-spacing="0.25" text-anchor="middle" fill="#1a1a1a" stroke="#1a1a1a" stroke-width="0.22">GMP apoptotic</text>
<text transform="translate(377.10,211.10) rotate(-90) scale(0.68,1)" font-size="8.2" letter-spacing="0.25" text-anchor="middle" fill="#1a1a1a" stroke="#1a1a1a" stroke-width="0.22">normalized to control shRNA</text>
<line x1="392.50" y1="169.50" x2="392.50" y2="253.20" stroke="#2b2b2b" stroke-width="1.2"/>
<line x1="389.30" y1="253.20" x2="513.00" y2="253.20" stroke="#2b2b2b" stroke-width="1.2"/>
<line x1="389.30" y1="253.20" x2="392.50" y2="253.20" stroke="#2b2b2b" stroke-width="0.9"/>
<text x="384.40" y="254.90" font-size="6.5" text-anchor="middle" fill="#333">0</text>
<line x1="391.00" y1="243.17" x2="392.50" y2="243.17" stroke="#2b2b2b" stroke-width="0.9"/>
<line x1="389.30" y1="233.15" x2="392.50" y2="233.15" stroke="#2b2b2b" stroke-width="0.9"/>
<text x="384.40" y="234.85" font-size="6.5" text-anchor="middle" fill="#333">1</text>
<line x1="391.00" y1="223.12" x2="392.50" y2="223.12" stroke="#2b2b2b" stroke-width="0.9"/>
<line x1="389.30" y1="213.10" x2="392.50" y2="213.10" stroke="#2b2b2b" stroke-width="0.9"/>
<text x="384.40" y="214.80" font-size="6.5" text-anchor="middle" fill="#333">2</text>
<line x1="391.00" y1="203.07" x2="392.50" y2="203.07" stroke="#2b2b2b" stroke-width="0.9"/>
<line x1="389.30" y1="193.05" x2="392.50" y2="193.05" stroke="#2b2b2b" stroke-width="0.9"/>
<text x="384.40" y="194.75" font-size="6.5" text-anchor="middle" fill="#333">3</text>
<line x1="391.00" y1="183.02" x2="392.50" y2="183.02" stroke="#2b2b2b" stroke-width="0.9"/>
<line x1="389.30" y1="173.00" x2="392.50" y2="173.00" stroke="#2b2b2b" stroke-width="0.9"/>
<text x="384.40" y="174.70" font-size="6.5" text-anchor="middle" fill="#333">4</text>
<line x1="407.50" y1="253.20" x2="407.50" y2="256.00" stroke="#2b2b2b" stroke-width="0.9"/>
<text x="407.50" y="265.50" font-size="6.5" text-anchor="middle" fill="#333">4</text>
<line x1="437.50" y1="253.20" x2="437.50" y2="256.00" stroke="#2b2b2b" stroke-width="0.9"/>
<text x="437.50" y="265.50" font-size="6.5" text-anchor="middle" fill="#333">8</text>
<line x1="467.50" y1="253.20" x2="467.50" y2="256.00" stroke="#2b2b2b" stroke-width="0.9"/>
<text x="467.50" y="265.50" font-size="6.5" text-anchor="middle" fill="#333">12</text>
<line x1="497.50" y1="253.20" x2="497.50" y2="256.00" stroke="#2b2b2b" stroke-width="0.9"/>
<text x="497.50" y="265.50" font-size="6.5" text-anchor="middle" fill="#333">16</text>
<line x1="407.50" y1="230.14" x2="407.50" y2="236.16" stroke="#4a4d52" stroke-width="0.85"/>
<line x1="405.20" y1="230.14" x2="409.80" y2="230.14" stroke="#4a4d52" stroke-width="0.85"/>
<line x1="405.20" y1="236.16" x2="409.80" y2="236.16" stroke="#4a4d52" stroke-width="0.85"/>
<line x1="437.50" y1="230.14" x2="437.50" y2="236.16" stroke="#4a4d52" stroke-width="0.85"/>
<line x1="435.20" y1="230.14" x2="439.80" y2="230.14" stroke="#4a4d52" stroke-width="0.85"/>
<line x1="435.20" y1="236.16" x2="439.80" y2="236.16" stroke="#4a4d52" stroke-width="0.85"/>
<line x1="467.50" y1="228.74" x2="467.50" y2="238.56" stroke="#4a4d52" stroke-width="0.85"/>
<line x1="465.20" y1="228.74" x2="469.80" y2="228.74" stroke="#4a4d52" stroke-width="0.85"/>
<line x1="465.20" y1="238.56" x2="469.80" y2="238.56" stroke="#4a4d52" stroke-width="0.85"/>
<line x1="497.50" y1="221.92" x2="497.50" y2="243.58" stroke="#4a4d52" stroke-width="0.85"/>
<line x1="495.20" y1="221.92" x2="499.80" y2="221.92" stroke="#4a4d52" stroke-width="0.85"/>
<line x1="495.20" y1="243.58" x2="499.80" y2="243.58" stroke="#4a4d52" stroke-width="0.85"/>
<polyline points="407.50,233.15 437.50,233.15 467.50,233.15 497.50,233.15" fill="none" stroke="#8fb0d2" stroke-width="2.2" stroke-opacity="0.35"/>
<polyline points="407.50,233.15 437.50,233.15 467.50,233.15 497.50,233.15" fill="none" stroke="#54708f" stroke-width="1.15"/>
<circle cx="407.50" cy="233.15" r="2.2" fill="#1a3149" stroke="#10222f" stroke-width="0.6"/>
<circle cx="437.50" cy="233.15" r="2.2" fill="#1a3149" stroke="#10222f" stroke-width="0.6"/>
<circle cx="467.50" cy="233.15" r="2.2" fill="#1a3149" stroke="#10222f" stroke-width="0.6"/>
<circle cx="497.50" cy="233.15" r="2.2" fill="#1a3149" stroke="#10222f" stroke-width="0.6"/>
<line x1="407.50" y1="203.28" x2="407.50" y2="217.11" stroke="#4d4548" stroke-width="0.85"/>
<line x1="405.20" y1="203.28" x2="409.80" y2="203.28" stroke="#4d4548" stroke-width="0.85"/>
<line x1="405.20" y1="217.11" x2="409.80" y2="217.11" stroke="#4d4548" stroke-width="0.85"/>
<line x1="437.50" y1="186.03" x2="437.50" y2="209.09" stroke="#4d4548" stroke-width="0.85"/>
<line x1="435.20" y1="186.03" x2="439.80" y2="186.03" stroke="#4d4548" stroke-width="0.85"/>
<line x1="435.20" y1="209.09" x2="439.80" y2="209.09" stroke="#4d4548" stroke-width="0.85"/>
<line x1="467.50" y1="229.74" x2="467.50" y2="234.55" stroke="#4d4548" stroke-width="0.85"/>
<line x1="465.20" y1="229.74" x2="469.80" y2="229.74" stroke="#4d4548" stroke-width="0.85"/>
<line x1="465.20" y1="234.55" x2="469.80" y2="234.55" stroke="#4d4548" stroke-width="0.85"/>
<line x1="497.50" y1="223.73" x2="497.50" y2="238.16" stroke="#4d4548" stroke-width="0.85"/>
<line x1="495.20" y1="223.73" x2="499.80" y2="223.73" stroke="#4d4548" stroke-width="0.85"/>
<line x1="495.20" y1="238.16" x2="499.80" y2="238.16" stroke="#4d4548" stroke-width="0.85"/>
<polyline points="407.50,210.29 437.50,197.26 467.50,232.15 497.50,230.94" fill="none" stroke="#e27a95" stroke-width="2.2" stroke-opacity="0.35"/>
<polyline points="407.50,210.29 437.50,197.26 467.50,232.15 497.50,230.94" fill="none" stroke="#b02a48" stroke-width="1.0"/>
<circle cx="407.50" cy="210.29" r="2.2" fill="#a8183a" stroke="#6e0c22" stroke-width="0.6"/>
<circle cx="437.50" cy="197.26" r="2.2" fill="#a8183a" stroke="#6e0c22" stroke-width="0.6"/>
<circle cx="467.50" cy="232.15" r="2.2" fill="#a8183a" stroke="#6e0c22" stroke-width="0.6"/>
<circle cx="497.50" cy="230.94" r="2.2" fill="#a8183a" stroke="#6e0c22" stroke-width="0.6"/>
<ellipse cx="407.50" cy="199.20" rx="0.95" ry="1.05" fill="#3a3a3a"/>
<ellipse cx="436.20" cy="182.50" rx="0.95" ry="1.05" fill="#3a3a3a"/>
<ellipse cx="438.80" cy="182.50" rx="0.95" ry="1.05" fill="#3a3a3a"/>
<text x="112.60" y="290.00" font-size="8.8" text-anchor="middle" fill="#2a2a2a">CMP</text>
<line x1="58.30" y1="299.20" x2="67.30" y2="299.20" stroke="#54708f" stroke-width="1.3"/>
<circle cx="62.80" cy="299.20" r="2.1" fill="#172b40"/>
<text x="70.80" y="301.40" font-size="6.35" fill="#222">Control-shRNA</text>
<line x1="117.10" y1="299.20" x2="126.10" y2="299.20" stroke="#b02a48" stroke-width="1.3"/>
<circle cx="121.60" cy="299.20" r="2.1" fill="#801228"/>
<text x="129.00" y="301.40" font-size="6.35" fill="#222"><tspan font-style="italic">Nbea</tspan>-shRNA</text>
<text transform="translate(25.80,348.20) rotate(-90) scale(0.68,1)" font-size="8.2" letter-spacing="0.25" text-anchor="middle" fill="#1a1a1a" stroke="#1a1a1a" stroke-width="0.22">CMP apoptotic</text>
<text transform="translate(37.00,348.20) rotate(-90) scale(0.68,1)" font-size="8.2" letter-spacing="0.25" text-anchor="middle" fill="#1a1a1a" stroke="#1a1a1a" stroke-width="0.22">normalized to control shRNA</text>
<line x1="52.40" y1="306.60" x2="52.40" y2="390.30" stroke="#2b2b2b" stroke-width="1.2"/>
<line x1="49.20" y1="390.30" x2="172.90" y2="390.30" stroke="#2b2b2b" stroke-width="1.2"/>
<line x1="49.20" y1="390.30" x2="52.40" y2="390.30" stroke="#2b2b2b" stroke-width="0.9"/>
<text x="44.30" y="392.00" font-size="6.5" text-anchor="middle" fill="#333">0</text>
<line x1="50.90" y1="380.28" x2="52.40" y2="380.28" stroke="#2b2b2b" stroke-width="0.9"/>
<line x1="49.20" y1="370.25" x2="52.40" y2="370.25" stroke="#2b2b2b" stroke-width="0.9"/>
<text x="44.30" y="371.95" font-size="6.5" text-anchor="middle" fill="#333">1</text>
<line x1="50.90" y1="360.23" x2="52.40" y2="360.23" stroke="#2b2b2b" stroke-width="0.9"/>
<line x1="49.20" y1="350.20" x2="52.40" y2="350.20" stroke="#2b2b2b" stroke-width="0.9"/>
<text x="44.30" y="351.90" font-size="6.5" text-anchor="middle" fill="#333">2</text>
<line x1="50.90" y1="340.18" x2="52.40" y2="340.18" stroke="#2b2b2b" stroke-width="0.9"/>
<line x1="49.20" y1="330.15" x2="52.40" y2="330.15" stroke="#2b2b2b" stroke-width="0.9"/>
<text x="44.30" y="331.85" font-size="6.5" text-anchor="middle" fill="#333">3</text>
<line x1="50.90" y1="320.12" x2="52.40" y2="320.12" stroke="#2b2b2b" stroke-width="0.9"/>
<line x1="49.20" y1="310.10" x2="52.40" y2="310.10" stroke="#2b2b2b" stroke-width="0.9"/>
<text x="44.30" y="311.80" font-size="6.5" text-anchor="middle" fill="#333">4</text>
<line x1="67.40" y1="390.30" x2="67.40" y2="393.10" stroke="#2b2b2b" stroke-width="0.9"/>
<text x="67.40" y="402.60" font-size="6.5" text-anchor="middle" fill="#333">4</text>
<line x1="97.40" y1="390.30" x2="97.40" y2="393.10" stroke="#2b2b2b" stroke-width="0.9"/>
<text x="97.40" y="402.60" font-size="6.5" text-anchor="middle" fill="#333">8</text>
<line x1="127.40" y1="390.30" x2="127.40" y2="393.10" stroke="#2b2b2b" stroke-width="0.9"/>
<text x="127.40" y="402.60" font-size="6.5" text-anchor="middle" fill="#333">12</text>
<line x1="157.40" y1="390.30" x2="157.40" y2="393.10" stroke="#2b2b2b" stroke-width="0.9"/>
<text x="157.40" y="402.60" font-size="6.5" text-anchor="middle" fill="#333">16</text>
<text transform="translate(112.60,414.20) scale(0.74,1)" font-size="8.3" text-anchor="middle" fill="#1a1a1a" stroke="#1a1a1a" stroke-width="0.25">Weeks post-transplant</text>
<line x1="67.40" y1="366.64" x2="67.40" y2="373.86" stroke="#4a4d52" stroke-width="0.85"/>
<line x1="65.10" y1="366.64" x2="69.70" y2="366.64" stroke="#4a4d52" stroke-width="0.85"/>
<line x1="65.10" y1="373.86" x2="69.70" y2="373.86" stroke="#4a4d52" stroke-width="0.85"/>
<line x1="97.40" y1="367.84" x2="97.40" y2="372.66" stroke="#4a4d52" stroke-width="0.85"/>
<line x1="95.10" y1="367.84" x2="99.70" y2="367.84" stroke="#4a4d52" stroke-width="0.85"/>
<line x1="95.10" y1="372.66" x2="99.70" y2="372.66" stroke="#4a4d52" stroke-width="0.85"/>
<line x1="127.40" y1="367.84" x2="127.40" y2="372.66" stroke="#4a4d52" stroke-width="0.85"/>
<line x1="125.10" y1="367.84" x2="129.70" y2="367.84" stroke="#4a4d52" stroke-width="0.85"/>
<line x1="125.10" y1="372.66" x2="129.70" y2="372.66" stroke="#4a4d52" stroke-width="0.85"/>
<line x1="157.40" y1="368.25" x2="157.40" y2="381.48" stroke="#4a4d52" stroke-width="0.85"/>
<line x1="155.10" y1="368.25" x2="159.70" y2="368.25" stroke="#4a4d52" stroke-width="0.85"/>
<line x1="155.10" y1="381.48" x2="159.70" y2="381.48" stroke="#4a4d52" stroke-width="0.85"/>
<polyline points="67.40,370.25 97.40,370.25 127.40,370.25 157.40,370.25" fill="none" stroke="#8fb0d2" stroke-width="2.2" stroke-opacity="0.35"/>
<polyline points="67.40,370.25 97.40,370.25 127.40,370.25 157.40,370.25" fill="none" stroke="#54708f" stroke-width="1.15"/>
<circle cx="67.40" cy="370.25" r="2.2" fill="#1a3149" stroke="#10222f" stroke-width="0.6"/>
<circle cx="97.40" cy="370.25" r="2.2" fill="#1a3149" stroke="#10222f" stroke-width="0.6"/>
<circle cx="127.40" cy="370.25" r="2.2" fill="#1a3149" stroke="#10222f" stroke-width="0.6"/>
<circle cx="157.40" cy="370.25" r="2.2" fill="#1a3149" stroke="#10222f" stroke-width="0.6"/>
<line x1="67.40" y1="331.35" x2="67.40" y2="347.59" stroke="#4d4548" stroke-width="0.85"/>
<line x1="65.10" y1="331.35" x2="69.70" y2="331.35" stroke="#4d4548" stroke-width="0.85"/>
<line x1="65.10" y1="347.59" x2="69.70" y2="347.59" stroke="#4d4548" stroke-width="0.85"/>
<line x1="97.40" y1="343.98" x2="97.40" y2="356.62" stroke="#4d4548" stroke-width="0.85"/>
<line x1="95.10" y1="343.98" x2="99.70" y2="343.98" stroke="#4d4548" stroke-width="0.85"/>
<line x1="95.10" y1="356.62" x2="99.70" y2="356.62" stroke="#4d4548" stroke-width="0.85"/>
<line x1="127.40" y1="358.02" x2="127.40" y2="368.25" stroke="#4d4548" stroke-width="0.85"/>
<line x1="125.10" y1="358.02" x2="129.70" y2="358.02" stroke="#4d4548" stroke-width="0.85"/>
<line x1="125.10" y1="368.25" x2="129.70" y2="368.25" stroke="#4d4548" stroke-width="0.85"/>
<line x1="157.40" y1="342.58" x2="157.40" y2="373.46" stroke="#4d4548" stroke-width="0.85"/>
<line x1="155.10" y1="342.58" x2="159.70" y2="342.58" stroke="#4d4548" stroke-width="0.85"/>
<line x1="155.10" y1="373.46" x2="159.70" y2="373.46" stroke="#4d4548" stroke-width="0.85"/>
<polyline points="67.40,339.17 97.40,350.20 127.40,363.43 157.40,358.22" fill="none" stroke="#e27a95" stroke-width="2.2" stroke-opacity="0.35"/>
<polyline points="67.40,339.17 97.40,350.20 127.40,363.43 157.40,358.22" fill="none" stroke="#b02a48" stroke-width="1.0"/>
<circle cx="67.40" cy="339.17" r="2.2" fill="#a8183a" stroke="#6e0c22" stroke-width="0.6"/>
<circle cx="97.40" cy="350.20" r="2.2" fill="#a8183a" stroke="#6e0c22" stroke-width="0.6"/>
<circle cx="127.40" cy="363.43" r="2.2" fill="#a8183a" stroke="#6e0c22" stroke-width="0.6"/>
<circle cx="157.40" cy="358.22" r="2.2" fill="#a8183a" stroke="#6e0c22" stroke-width="0.6"/>
<ellipse cx="66.10" cy="326.00" rx="0.95" ry="1.05" fill="#3a3a3a"/>
<ellipse cx="68.70" cy="326.00" rx="0.95" ry="1.05" fill="#3a3a3a"/>
<ellipse cx="97.40" cy="338.30" rx="0.95" ry="1.05" fill="#3a3a3a"/>
<text x="282.70" y="290.00" font-size="8.8" text-anchor="middle" fill="#2a2a2a">MEP</text>
<line x1="228.40" y1="299.20" x2="237.40" y2="299.20" stroke="#54708f" stroke-width="1.3"/>
<circle cx="232.90" cy="299.20" r="2.1" fill="#172b40"/>
<text x="240.90" y="301.40" font-size="6.35" fill="#222">Control-shRNA</text>
<line x1="287.20" y1="299.20" x2="296.20" y2="299.20" stroke="#b02a48" stroke-width="1.3"/>
<circle cx="291.70" cy="299.20" r="2.1" fill="#801228"/>
<text x="299.10" y="301.40" font-size="6.35" fill="#222"><tspan font-style="italic">Nbea</tspan>-shRNA</text>
<text transform="translate(195.90,348.20) rotate(-90) scale(0.68,1)" font-size="8.2" letter-spacing="0.25" text-anchor="middle" fill="#1a1a1a" stroke="#1a1a1a" stroke-width="0.22">MEP apoptotic</text>
<text transform="translate(207.10,348.20) rotate(-90) scale(0.68,1)" font-size="8.2" letter-spacing="0.25" text-anchor="middle" fill="#1a1a1a" stroke="#1a1a1a" stroke-width="0.22">normalized to control shRNA</text>
<line x1="222.50" y1="306.60" x2="222.50" y2="390.30" stroke="#2b2b2b" stroke-width="1.2"/>
<line x1="219.30" y1="390.30" x2="343.00" y2="390.30" stroke="#2b2b2b" stroke-width="1.2"/>
<line x1="219.30" y1="390.30" x2="222.50" y2="390.30" stroke="#2b2b2b" stroke-width="0.9"/>
<text x="214.40" y="392.00" font-size="6.5" text-anchor="middle" fill="#333">0</text>
<line x1="221.00" y1="380.28" x2="222.50" y2="380.28" stroke="#2b2b2b" stroke-width="0.9"/>
<line x1="219.30" y1="370.25" x2="222.50" y2="370.25" stroke="#2b2b2b" stroke-width="0.9"/>
<text x="214.40" y="371.95" font-size="6.5" text-anchor="middle" fill="#333">1</text>
<line x1="221.00" y1="360.23" x2="222.50" y2="360.23" stroke="#2b2b2b" stroke-width="0.9"/>
<line x1="219.30" y1="350.20" x2="222.50" y2="350.20" stroke="#2b2b2b" stroke-width="0.9"/>
<text x="214.40" y="351.90" font-size="6.5" text-anchor="middle" fill="#333">2</text>
<line x1="221.00" y1="340.18" x2="222.50" y2="340.18" stroke="#2b2b2b" stroke-width="0.9"/>
<line x1="219.30" y1="330.15" x2="222.50" y2="330.15" stroke="#2b2b2b" stroke-width="0.9"/>
<text x="214.40" y="331.85" font-size="6.5" text-anchor="middle" fill="#333">3</text>
<line x1="221.00" y1="320.12" x2="222.50" y2="320.12" stroke="#2b2b2b" stroke-width="0.9"/>
<line x1="219.30" y1="310.10" x2="222.50" y2="310.10" stroke="#2b2b2b" stroke-width="0.9"/>
<text x="214.40" y="311.80" font-size="6.5" text-anchor="middle" fill="#333">4</text>
<line x1="237.50" y1="390.30" x2="237.50" y2="393.10" stroke="#2b2b2b" stroke-width="0.9"/>
<text x="237.50" y="402.60" font-size="6.5" text-anchor="middle" fill="#333">4</text>
<line x1="267.50" y1="390.30" x2="267.50" y2="393.10" stroke="#2b2b2b" stroke-width="0.9"/>
<text x="267.50" y="402.60" font-size="6.5" text-anchor="middle" fill="#333">8</text>
<line x1="297.50" y1="390.30" x2="297.50" y2="393.10" stroke="#2b2b2b" stroke-width="0.9"/>
<text x="297.50" y="402.60" font-size="6.5" text-anchor="middle" fill="#333">12</text>
<line x1="327.50" y1="390.30" x2="327.50" y2="393.10" stroke="#2b2b2b" stroke-width="0.9"/>
<text x="327.50" y="402.60" font-size="6.5" text-anchor="middle" fill="#333">16</text>
<text transform="translate(282.70,414.20) scale(0.74,1)" font-size="8.3" text-anchor="middle" fill="#1a1a1a" stroke="#1a1a1a" stroke-width="0.25">Weeks post-transplant</text>
<line x1="237.50" y1="366.84" x2="237.50" y2="373.46" stroke="#4a4d52" stroke-width="0.85"/>
<line x1="235.20" y1="366.84" x2="239.80" y2="366.84" stroke="#4a4d52" stroke-width="0.85"/>
<line x1="235.20" y1="373.46" x2="239.80" y2="373.46" stroke="#4a4d52" stroke-width="0.85"/>
<line x1="267.50" y1="365.44" x2="267.50" y2="374.26" stroke="#4a4d52" stroke-width="0.85"/>
<line x1="265.20" y1="365.44" x2="269.80" y2="365.44" stroke="#4a4d52" stroke-width="0.85"/>
<line x1="265.20" y1="374.26" x2="269.80" y2="374.26" stroke="#4a4d52" stroke-width="0.85"/>
<line x1="297.50" y1="366.24" x2="297.50" y2="374.26" stroke="#4a4d52" stroke-width="0.85"/>
<line x1="295.20" y1="366.24" x2="299.80" y2="366.24" stroke="#4a4d52" stroke-width="0.85"/>
<line x1="295.20" y1="374.26" x2="299.80" y2="374.26" stroke="#4a4d52" stroke-width="0.85"/>
<line x1="327.50" y1="362.23" x2="327.50" y2="379.47" stroke="#4a4d52" stroke-width="0.85"/>
<line x1="325.20" y1="362.23" x2="329.80" y2="362.23" stroke="#4a4d52" stroke-width="0.85"/>
<line x1="325.20" y1="379.47" x2="329.80" y2="379.47" stroke="#4a4d52" stroke-width="0.85"/>
<polyline points="237.50,370.25 267.50,370.25 297.50,370.25 327.50,370.25" fill="none" stroke="#8fb0d2" stroke-width="2.2" stroke-opacity="0.35"/>
<polyline points="237.50,370.25 267.50,370.25 297.50,370.25 327.50,370.25" fill="none" stroke="#54708f" stroke-width="1.15"/>
<circle cx="237.50" cy="370.25" r="2.2" fill="#1a3149" stroke="#10222f" stroke-width="0.6"/>
<circle cx="267.50" cy="370.25" r="2.2" fill="#1a3149" stroke="#10222f" stroke-width="0.6"/>
<circle cx="297.50" cy="370.25" r="2.2" fill="#1a3149" stroke="#10222f" stroke-width="0.6"/>
<circle cx="327.50" cy="370.25" r="2.2" fill="#1a3149" stroke="#10222f" stroke-width="0.6"/>
<line x1="237.50" y1="328.55" x2="237.50" y2="350.00" stroke="#4d4548" stroke-width="0.85"/>
<line x1="235.20" y1="328.55" x2="239.80" y2="328.55" stroke="#4d4548" stroke-width="0.85"/>
<line x1="235.20" y1="350.00" x2="239.80" y2="350.00" stroke="#4d4548" stroke-width="0.85"/>
<line x1="267.50" y1="370.25" x2="267.50" y2="377.07" stroke="#4d4548" stroke-width="0.85"/>
<line x1="265.20" y1="370.25" x2="269.80" y2="370.25" stroke="#4d4548" stroke-width="0.85"/>
<line x1="265.20" y1="377.07" x2="269.80" y2="377.07" stroke="#4d4548" stroke-width="0.85"/>
<line x1="297.50" y1="370.65" x2="297.50" y2="374.66" stroke="#4d4548" stroke-width="0.85"/>
<line x1="295.20" y1="370.65" x2="299.80" y2="370.65" stroke="#4d4548" stroke-width="0.85"/>
<line x1="295.20" y1="374.66" x2="299.80" y2="374.66" stroke="#4d4548" stroke-width="0.85"/>
<line x1="327.50" y1="356.62" x2="327.50" y2="383.88" stroke="#4d4548" stroke-width="0.85"/>
<line x1="325.20" y1="356.62" x2="329.80" y2="356.62" stroke="#4d4548" stroke-width="0.85"/>
<line x1="325.20" y1="383.88" x2="329.80" y2="383.88" stroke="#4d4548" stroke-width="0.85"/>
<polyline points="237.50,338.97 267.50,373.06 297.50,372.66 327.50,371.05" fill="none" stroke="#e27a95" stroke-width="2.2" stroke-opacity="0.35"/>
<polyline points="237.50,338.97 267.50,373.06 297.50,372.66 327.50,371.05" fill="none" stroke="#b02a48" stroke-width="1.0"/>
<circle cx="237.50" cy="338.97" r="2.2" fill="#a8183a" stroke="#6e0c22" stroke-width="0.6"/>
<circle cx="267.50" cy="373.06" r="2.2" fill="#a8183a" stroke="#6e0c22" stroke-width="0.6"/>
<circle cx="297.50" cy="372.66" r="2.2" fill="#a8183a" stroke="#6e0c22" stroke-width="0.6"/>
<circle cx="327.50" cy="371.05" r="2.2" fill="#a8183a" stroke="#6e0c22" stroke-width="0.6"/>
<ellipse cx="237.50" cy="322.80" rx="0.95" ry="1.05" fill="#3a3a3a"/>
<text x="452.70" y="290.00" font-size="8.8" text-anchor="middle" fill="#2a2a2a">CLP</text>
<line x1="398.40" y1="299.20" x2="407.40" y2="299.20" stroke="#54708f" stroke-width="1.3"/>
<circle cx="402.90" cy="299.20" r="2.1" fill="#172b40"/>
<text x="410.90" y="301.40" font-size="6.35" fill="#222">Control-shRNA</text>
<line x1="457.20" y1="299.20" x2="466.20" y2="299.20" stroke="#b02a48" stroke-width="1.3"/>
<circle cx="461.70" cy="299.20" r="2.1" fill="#801228"/>
<text x="469.10" y="301.40" font-size="6.35" fill="#222"><tspan font-style="italic">Nbea</tspan>-shRNA</text>
<text transform="translate(365.90,348.20) rotate(-90) scale(0.68,1)" font-size="8.2" letter-spacing="0.25" text-anchor="middle" fill="#1a1a1a" stroke="#1a1a1a" stroke-width="0.22">CLP apoptotic</text>
<text transform="translate(377.10,348.20) rotate(-90) scale(0.68,1)" font-size="8.2" letter-spacing="0.25" text-anchor="middle" fill="#1a1a1a" stroke="#1a1a1a" stroke-width="0.22">normalized to control shRNA</text>
<line x1="392.50" y1="306.60" x2="392.50" y2="390.30" stroke="#2b2b2b" stroke-width="1.2"/>
<line x1="389.30" y1="390.30" x2="513.00" y2="390.30" stroke="#2b2b2b" stroke-width="1.2"/>
<line x1="389.30" y1="390.30" x2="392.50" y2="390.30" stroke="#2b2b2b" stroke-width="0.9"/>
<text x="384.40" y="392.00" font-size="6.5" text-anchor="middle" fill="#333">0</text>
<line x1="391.00" y1="380.28" x2="392.50" y2="380.28" stroke="#2b2b2b" stroke-width="0.9"/>
<line x1="389.30" y1="370.25" x2="392.50" y2="370.25" stroke="#2b2b2b" stroke-width="0.9"/>
<text x="384.40" y="371.95" font-size="6.5" text-anchor="middle" fill="#333">1</text>
<line x1="391.00" y1="360.23" x2="392.50" y2="360.23" stroke="#2b2b2b" stroke-width="0.9"/>
<line x1="389.30" y1="350.20" x2="392.50" y2="350.20" stroke="#2b2b2b" stroke-width="0.9"/>
<text x="384.40" y="351.90" font-size="6.5" text-anchor="middle" fill="#333">2</text>
<line x1="391.00" y1="340.18" x2="392.50" y2="340.18" stroke="#2b2b2b" stroke-width="0.9"/>
<line x1="389.30" y1="330.15" x2="392.50" y2="330.15" stroke="#2b2b2b" stroke-width="0.9"/>
<text x="384.40" y="331.85" font-size="6.5" text-anchor="middle" fill="#333">3</text>
<line x1="391.00" y1="320.12" x2="392.50" y2="320.12" stroke="#2b2b2b" stroke-width="0.9"/>
<line x1="389.30" y1="310.10" x2="392.50" y2="310.10" stroke="#2b2b2b" stroke-width="0.9"/>
<text x="384.40" y="311.80" font-size="6.5" text-anchor="middle" fill="#333">4</text>
<line x1="407.50" y1="390.30" x2="407.50" y2="393.10" stroke="#2b2b2b" stroke-width="0.9"/>
<text x="407.50" y="402.60" font-size="6.5" text-anchor="middle" fill="#333">4</text>
<line x1="437.50" y1="390.30" x2="437.50" y2="393.10" stroke="#2b2b2b" stroke-width="0.9"/>
<text x="437.50" y="402.60" font-size="6.5" text-anchor="middle" fill="#333">8</text>
<line x1="467.50" y1="390.30" x2="467.50" y2="393.10" stroke="#2b2b2b" stroke-width="0.9"/>
<text x="467.50" y="402.60" font-size="6.5" text-anchor="middle" fill="#333">12</text>
<line x1="497.50" y1="390.30" x2="497.50" y2="393.10" stroke="#2b2b2b" stroke-width="0.9"/>
<text x="497.50" y="402.60" font-size="6.5" text-anchor="middle" fill="#333">16</text>
<text transform="translate(452.70,414.20) scale(0.74,1)" font-size="8.3" text-anchor="middle" fill="#1a1a1a" stroke="#1a1a1a" stroke-width="0.25">Weeks post-transplant</text>
<line x1="407.50" y1="369.25" x2="407.50" y2="371.25" stroke="#4a4d52" stroke-width="0.85"/>
<line x1="405.20" y1="369.25" x2="409.80" y2="369.25" stroke="#4a4d52" stroke-width="0.85"/>
<line x1="405.20" y1="371.25" x2="409.80" y2="371.25" stroke="#4a4d52" stroke-width="0.85"/>
<line x1="437.50" y1="368.25" x2="437.50" y2="372.25" stroke="#4a4d52" stroke-width="0.85"/>
<line x1="435.20" y1="368.25" x2="439.80" y2="368.25" stroke="#4a4d52" stroke-width="0.85"/>
<line x1="435.20" y1="372.25" x2="439.80" y2="372.25" stroke="#4a4d52" stroke-width="0.85"/>
<line x1="467.50" y1="367.24" x2="467.50" y2="373.26" stroke="#4a4d52" stroke-width="0.85"/>
<line x1="465.20" y1="367.24" x2="469.80" y2="367.24" stroke="#4a4d52" stroke-width="0.85"/>
<line x1="465.20" y1="373.26" x2="469.80" y2="373.26" stroke="#4a4d52" stroke-width="0.85"/>
<line x1="497.50" y1="369.25" x2="497.50" y2="371.25" stroke="#4a4d52" stroke-width="0.85"/>
<line x1="495.20" y1="369.25" x2="499.80" y2="369.25" stroke="#4a4d52" stroke-width="0.85"/>
<line x1="495.20" y1="371.25" x2="499.80" y2="371.25" stroke="#4a4d52" stroke-width="0.85"/>
<polyline points="407.50,370.25 437.50,370.25 467.50,370.25 497.50,370.25" fill="none" stroke="#8fb0d2" stroke-width="2.2" stroke-opacity="0.35"/>
<polyline points="407.50,370.25 437.50,370.25 467.50,370.25 497.50,370.25" fill="none" stroke="#54708f" stroke-width="1.15"/>
<circle cx="407.50" cy="370.25" r="2.2" fill="#1a3149" stroke="#10222f" stroke-width="0.6"/>
<circle cx="437.50" cy="370.25" r="2.2" fill="#1a3149" stroke="#10222f" stroke-width="0.6"/>
<circle cx="467.50" cy="370.25" r="2.2" fill="#1a3149" stroke="#10222f" stroke-width="0.6"/>
<circle cx="497.50" cy="370.25" r="2.2" fill="#1a3149" stroke="#10222f" stroke-width="0.6"/>
<line x1="407.50" y1="351.00" x2="407.50" y2="356.22" stroke="#4d4548" stroke-width="0.85"/>
<line x1="405.20" y1="351.00" x2="409.80" y2="351.00" stroke="#4d4548" stroke-width="0.85"/>
<line x1="405.20" y1="356.22" x2="409.80" y2="356.22" stroke="#4d4548" stroke-width="0.85"/>
<line x1="437.50" y1="329.55" x2="437.50" y2="351.20" stroke="#4d4548" stroke-width="0.85"/>
<line x1="435.20" y1="329.55" x2="439.80" y2="329.55" stroke="#4d4548" stroke-width="0.85"/>
<line x1="435.20" y1="351.20" x2="439.80" y2="351.20" stroke="#4d4548" stroke-width="0.85"/>
<line x1="467.50" y1="363.43" x2="467.50" y2="367.44" stroke="#4d4548" stroke-width="0.85"/>
<line x1="465.20" y1="363.43" x2="469.80" y2="363.43" stroke="#4d4548" stroke-width="0.85"/>
<line x1="465.20" y1="367.44" x2="469.80" y2="367.44" stroke="#4d4548" stroke-width="0.85"/>
<line x1="497.50" y1="364.24" x2="497.50" y2="375.86" stroke="#4d4548" stroke-width="0.85"/>
<line x1="495.20" y1="364.24" x2="499.80" y2="364.24" stroke="#4d4548" stroke-width="0.85"/>
<line x1="495.20" y1="375.86" x2="499.80" y2="375.86" stroke="#4d4548" stroke-width="0.85"/>
<polyline points="407.50,353.61 437.50,340.98 467.50,365.44 497.50,369.45" fill="none" stroke="#e27a95" stroke-width="2.2" stroke-opacity="0.35"/>
<polyline points="407.50,353.61 437.50,340.98 467.50,365.44 497.50,369.45" fill="none" stroke="#b02a48" stroke-width="1.0"/>
<circle cx="407.50" cy="353.61" r="2.2" fill="#a8183a" stroke="#6e0c22" stroke-width="0.6"/>
<circle cx="437.50" cy="340.98" r="2.2" fill="#a8183a" stroke="#6e0c22" stroke-width="0.6"/>
<circle cx="467.50" cy="365.44" r="2.2" fill="#a8183a" stroke="#6e0c22" stroke-width="0.6"/>
<circle cx="497.50" cy="369.45" r="2.2" fill="#a8183a" stroke="#6e0c22" stroke-width="0.6"/>
<ellipse cx="404.90" cy="343.90" rx="0.95" ry="1.05" fill="#3a3a3a"/>
<ellipse cx="407.50" cy="343.90" rx="0.95" ry="1.05" fill="#3a3a3a"/>
<ellipse cx="410.10" cy="343.90" rx="0.95" ry="1.05" fill="#3a3a3a"/>
<ellipse cx="436.20" cy="324.80" rx="0.95" ry="1.05" fill="#3a3a3a"/>
<ellipse cx="438.80" cy="324.80" rx="0.95" ry="1.05" fill="#3a3a3a"/>
</svg>
</body></html>
